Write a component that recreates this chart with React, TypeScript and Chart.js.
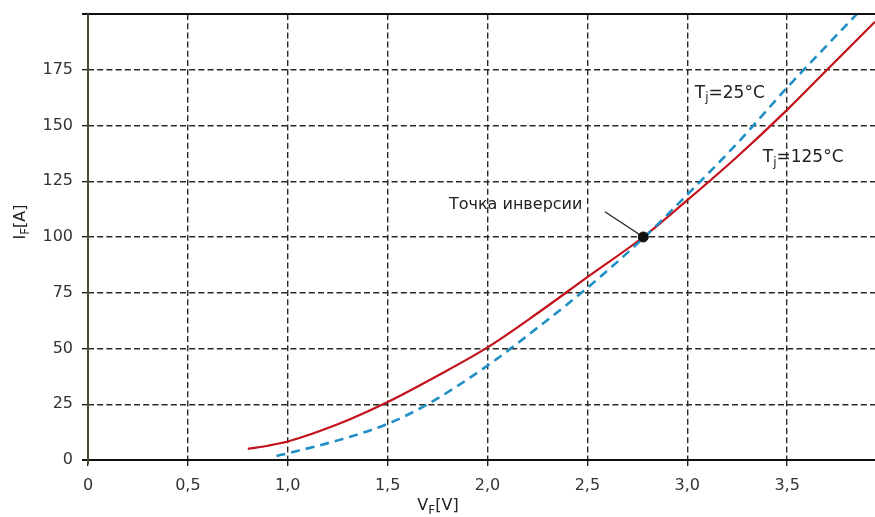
import React, { useEffect, useRef } from "react";
import { Chart, registerables } from "chart.js";

Chart.register(...registerables);

// Tj = 125°C (solid red)
const hotV = [0.8, 0.9, 1.0, 1.25, 1.5, 1.75, 2.0, 2.25, 2.5, 2.78, 3.0, 3.25, 3.5, 3.7, 3.94];
const hotI = [5.0, 6.4, 8.3, 16.0, 26.0, 37.8, 50.5, 65.8, 82.0, 100.0, 116.5, 136.0, 157.0, 175.0, 196.5];

// Tj = 25°C (dashed blue)
const coldV = [0.944, 1.0, 1.25, 1.5, 1.7, 2.0, 2.25, 2.5, 2.78, 3.0, 3.25, 3.5, 3.7, 3.86];
const coldI = [1.8, 3.0, 8.8, 16.2, 25.0, 42.3, 59.3, 77.2, 99.5, 119.0, 142.0, 167.0, 186.0, 201.0];

// inversion point and its leader line
const inversionV = [2.78];
const inversionI = [100];
const leaderV = [2.588, 2.78];
const leaderI = [111.3, 100];

const xTicks = [0, 0.5, 1.0, 1.5, 2.0, 2.5, 3.0, 3.5];
const yTicks = [0, 25, 50, 75, 100, 125, 150, 175];

const FONT = "'DejaVu Sans', 'Liberation Sans', sans-serif";

const toPts = (xs: number[], ys: number[]) => xs.map((x, i) => ({ x, y: ys[i] }));

function drawParts(
  ctx: CanvasRenderingContext2D,
  parts: { t: string; sub?: boolean }[],
  x: number,
  y: number,
  size: number,
  align: "left" | "center" = "left"
) {
  const subSize = Math.round(size * 0.72);
  let total = 0;
  parts.forEach((p) => {
    ctx.font = `${p.sub ? subSize : size}px ${FONT}`;
    total += ctx.measureText(p.t).width;
  });
  let cx = align === "center" ? x - total / 2 : x;
  ctx.textBaseline = "middle";
  ctx.textAlign = "left";
  parts.forEach((p) => {
    ctx.font = `${p.sub ? subSize : size}px ${FONT}`;
    ctx.fillText(p.t, cx, p.sub ? y + size * 0.3 : y);
    cx += ctx.measureText(p.t).width;
  });
}

const overlay = {
  id: "overlay",
  afterDraw(chart: any) {
    const { ctx, chartArea, scales } = chart;
    const xs = scales.x;
    const ys = scales.y;
    ctx.save();
    // axes lines
    ctx.setLineDash([]);
    ctx.lineWidth = 2;
    ctx.strokeStyle = "#111";
    ctx.beginPath();
    ctx.moveTo(chartArea.left - 6, chartArea.top);
    ctx.lineTo(chartArea.right, chartArea.top);
    ctx.stroke();
    ctx.beginPath();
    ctx.moveTo(chartArea.left - 6, chartArea.bottom);
    ctx.lineTo(chartArea.right, chartArea.bottom);
    ctx.stroke();
    ctx.strokeStyle = "#4a4936";
    ctx.beginPath();
    ctx.moveTo(chartArea.left, chartArea.top);
    ctx.lineTo(chartArea.left, chartArea.bottom + 4);
    ctx.stroke();

    // texts
    ctx.fillStyle = "#222";
    drawParts(ctx, [{ t: "T" }, { t: "j", sub: true }, { t: "=25°C" }], xs.getPixelForValue(3.038), ys.getPixelForValue(164.5), 17);
    drawParts(ctx, [{ t: "T" }, { t: "j", sub: true }, { t: "=125°C" }], xs.getPixelForValue(3.378), ys.getPixelForValue(135.5), 17);
    drawParts(ctx, [{ t: "Точка инверсии" }], xs.getPixelForValue(1.807), ys.getPixelForValue(114.5), 16);

    // axis titles
    drawParts(ctx, [{ t: "V" }, { t: "F", sub: true }, { t: "[V]" }], 438, 506, 16, "center");
    ctx.save();
    ctx.translate(21, 222);
    ctx.rotate(-Math.PI / 2);
    drawParts(ctx, [{ t: "I" }, { t: "F", sub: true }, { t: "[A]" }], 0, 0, 16, "center");
    ctx.restore();
    ctx.restore();
  },
};

export default function App() {
  const ref = useRef<HTMLCanvasElement>(null);
  useEffect(() => {
    if (!ref.current) return;
    const chart = new Chart(ref.current, {
      type: "line",
      data: {
        datasets: [
          {
            label: "Tj=125°C",
            data: toPts(hotV, hotI),
            borderColor: "#c3121b",
            borderWidth: 2.2,
            pointRadius: 0,
            cubicInterpolationMode: "monotone",
            order: 2,
          },
          {
            label: "Tj=25°C",
            data: toPts(coldV, coldI),
            borderColor: "#1f8fc6",
            borderWidth: 2.6,
            borderDash: [9, 6],
            pointRadius: 0,
            cubicInterpolationMode: "monotone",
            order: 1,
          },
          {
            label: "leader",
            data: toPts(leaderV, leaderI),
            borderColor: "#222",
            borderWidth: 1.3,
            pointRadius: 0,
            order: 0,
          },
          {
            label: "inversion",
            data: toPts(inversionV, inversionI),
            showLine: false,
            pointRadius: 5,
            pointBackgroundColor: "#111",
            pointBorderColor: "#111",
            order: -1,
          },
        ],
      },
      options: {
        animation: false,
        responsive: false,
        layout: { autoPadding: false, padding: { top: 14, right: 0, left: 0, bottom: 0 } },
        plugins: { legend: { display: false }, tooltip: { enabled: false } },
        scales: {
          x: {
            type: "linear",
            min: 0,
            max: 3.94,
            afterFit: (s: any) => {
              s.height = 57;
              s.paddingLeft = 0;
              s.paddingRight = 0;
            },
            afterBuildTicks: (s: any) => {
              s.ticks = xTicks.map((v) => ({ value: v }));
            },
            ticks: {
              callback: (v: any) => (v === 0 ? "0" : Number(v).toFixed(1).replace(".", ",")),
              font: { size: 16, family: FONT },
              color: "#333",
              padding: 10,
              maxRotation: 0,
            },
            grid: { color: "#2a2a22", lineWidth: 1.4, tickLength: 6, tickColor: "#222", tickWidth: 1.4 },
            border: { display: false, dash: [6, 3.2] },
          },
          y: {
            type: "linear",
            min: 0,
            max: 200,
            afterFit: (s: any) => {
              s.width = 88;
              s.paddingTop = 0;
              s.paddingBottom = 0;
            },
            afterBuildTicks: (s: any) => {
              s.ticks = yTicks.map((v) => ({ value: v }));
            },
            ticks: {
              font: { size: 16, family: FONT },
              color: "#333",
              padding: 9,
            },
            grid: { color: "#2a2a22", lineWidth: 1.4, tickLength: 6, tickColor: "#222", tickWidth: 1.4 },
            border: { display: false, dash: [6, 3.2] },
          },
        },
      },
      plugins: [overlay],
    } as any);
    return () => chart.destroy();
  }, []);
  return (
    <div style={{ position: "absolute", left: 0, top: 0, width: 875, height: 517, background: "#fff" }}>
      <canvas ref={ref} width={875} height={517} />
    </div>
  );
}
